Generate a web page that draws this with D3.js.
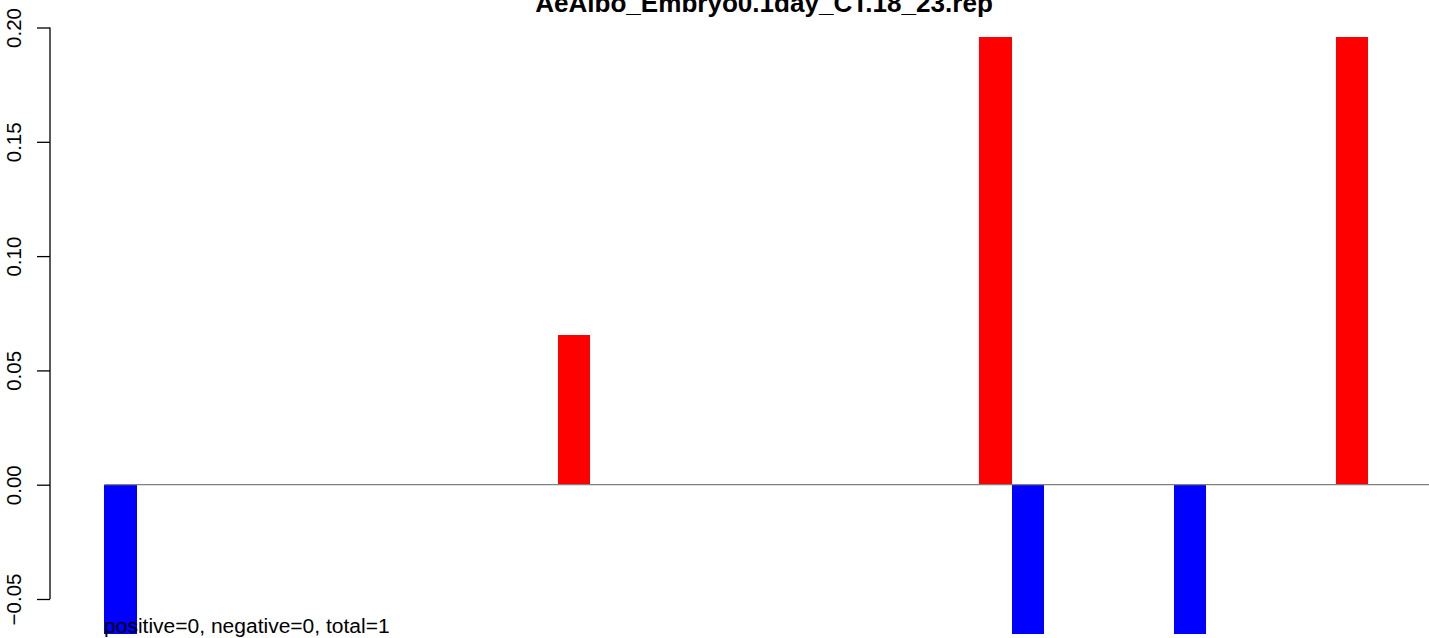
<!DOCTYPE html>
<html>
<head>
<meta charset="utf-8">
<script src="https://cdn.jsdelivr.net/npm/d3@7"></script>
<style>
  html, body { margin: 0; padding: 0; background: #fff; }
  svg { display: block; }
  text { font-family: "Liberation Sans", Arial, Helvetica, sans-serif; }
</style>
</head>
<body>
<script>
// ---- data ----
const title = "AeAlbo_Embryo0.1day_CT.18_23.rep";
const footnote = "positive=0, negative=0, total=1";
const barCount = 42;
const barIndex = [0, 14, 27, 28, 33, 38];
const barValues = [-0.0655, 0.0655, 0.196, -0.0655, -0.0655, 0.196];
const yTicks = [-0.05, 0, 0.05, 0.10, 0.15, 0.20];
const yTickLabels = ["\u22120.05", "0.00", "0.05", "0.10", "0.15", "0.20"];

// ---- layout ----
const W = 1429, H = 638;
const svg = d3.select("body").append("svg").attr("width", W).attr("height", H);

const x = d3.scaleBand()
  .domain(d3.range(barCount))
  .range([104.3, 104.3 + barCount * 32.4])
  .paddingInner(0).paddingOuter(0);

const y = d3.scaleLinear().domain([-0.05, 0.20]).range([599, 27.5]);

const clipId = "plotclip";
svg.append("clipPath").attr("id", clipId)
  .append("rect").attr("x", 50).attr("y", 0).attr("width", W).attr("height", 634);

// bars
const bars = barIndex.map((idx, i) => ({ idx, v: barValues[i] }));
svg.append("g").attr("clip-path", `url(#${clipId})`)
  .selectAll("rect").data(bars).join("rect")
  .attr("x", d => x(d.idx))
  .attr("width", x.bandwidth())
  .attr("y", d => y(Math.max(0, d.v)))
  .attr("height", d => Math.abs(y(d.v) - y(0)))
  .attr("fill", d => d.v >= 0 ? "#ff0000" : "#0000ff")
  .attr("shape-rendering", "crispEdges");

// zero line
svg.append("line")
  .attr("x1", x(0)).attr("x2", W + 10)
  .attr("y1", y(0)).attr("y2", y(0))
  .attr("stroke", "#808080").attr("stroke-width", 1.2);

// y axis
const axis = d3.axisLeft(y).tickValues(yTicks)
  .tickFormat((d, i) => yTickLabels[i]).tickSize(13).tickPadding(0);
const gA = svg.append("g").attr("transform", "translate(50,0)").call(axis);
gA.select(".domain").attr("stroke", "#000").attr("stroke-width", 1.3)
  .attr("d", `M0,${y(-0.05)}V${y(0.20)}`);
gA.selectAll(".tick line").attr("stroke", "#000").attr("stroke-width", 1.3);
gA.selectAll(".tick text")
  .attr("transform", "rotate(-90)")
  .attr("x", 0).attr("y", -29)
  .attr("dy", 0)
  .attr("text-anchor", "middle")
  .attr("font-size", 20.5)
  .attr("fill", "#000");

// title
const t = svg.append("text")
  .attr("x", 764).attr("y", 12)
  .attr("text-anchor", "middle")
  .attr("font-weight", "bold")
  .attr("font-size", 22)
  .attr("fill", "#000")
  .text(title);
{
  const w = t.node().getComputedTextLength();
  t.attr("font-size", 22 * 458 / w);
}

// footnote
const f = svg.append("text")
  .attr("x", 104).attr("y", 633)
  .attr("font-size", 20)
  .attr("fill", "#000")
  .text(footnote);
{
  const w = f.node().getComputedTextLength();
  f.attr("font-size", 20 * 286 / w);
}
</script>
</body>
</html>
